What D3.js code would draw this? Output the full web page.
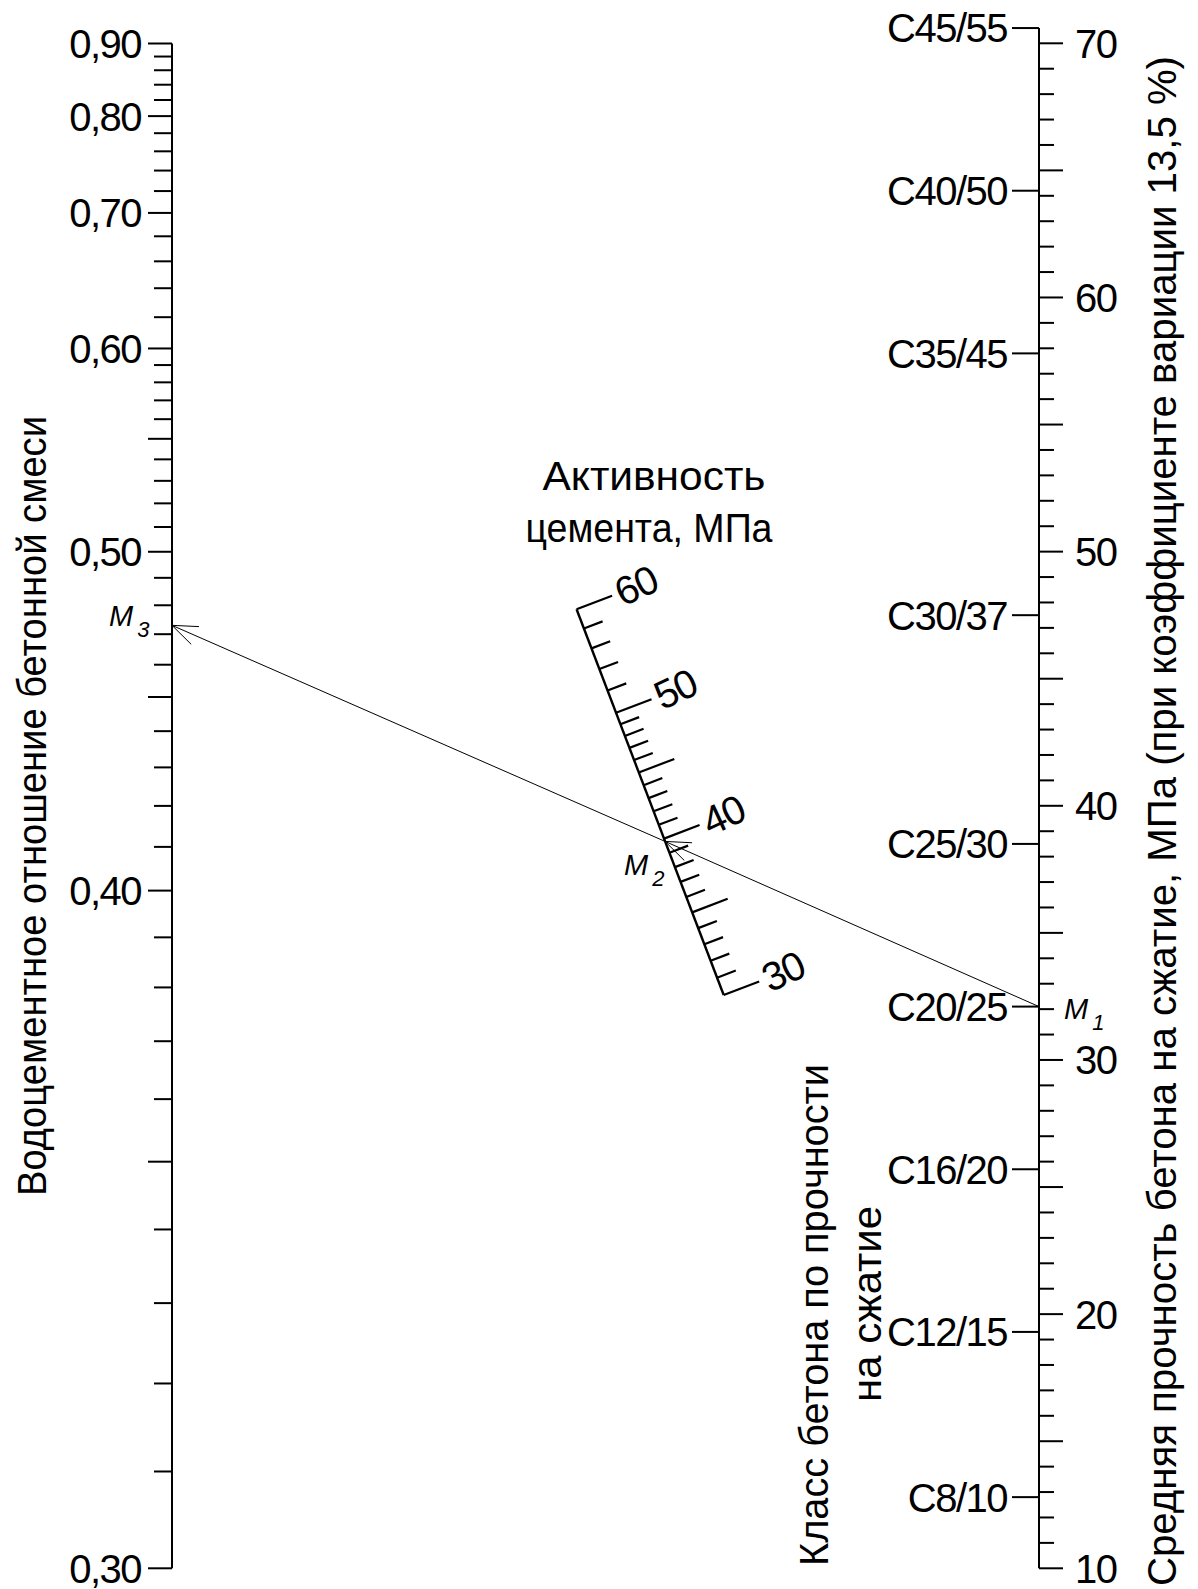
<!DOCTYPE html>
<html><head><meta charset="utf-8">
<script src="https://cdn.jsdelivr.net/npm/d3@7"></script>
<style>
html,body{margin:0;padding:0;background:#fff;}
svg text{font-family:"Liberation Sans",Arial,sans-serif;fill:#000;}
</style></head><body>
<svg id="chart" width="1198" height="1589"></svg>
<script>
// ---------- DATA ----------
// Water-cement ratio scale (left)
const wcMajor = [0.30, 0.40, 0.50, 0.60, 0.70, 0.80, 0.90];
const wcMajorLabels = ["0,30", "0,40", "0,50", "0,60", "0,70", "0,80", "0,90"];
const wcMid = [0.35, 0.45, 0.55];
const wcMinor = [0.31,0.32,0.33,0.34,0.36,0.37,0.38,0.39,
                 0.41,0.42,0.43,0.44,0.46,0.47,0.48,0.49,
                 0.51,0.52,0.53,0.54,0.56,0.57,0.58,0.59,
                 0.62,0.64,0.66,0.68,0.72,0.74,0.76,0.78,
                 0.82,0.84,0.86,0.88];
// Mean compressive strength scale (right), MPa
const strengthDomain = [10, 70];
const strengthLabels = [10, 20, 30, 40, 50, 60, 70];
// Concrete classes and their mean strength on the right scale
const classLabels = ["C8/10","C12/15","C16/20","C20/25","C25/30","C30/37","C35/45","C40/50","C45/55"];
const classStrength = [12.8, 19.3, 25.7, 32.1, 38.5, 47.5, 57.8, 64.2, 70.6];
// Cement activity scale (middle), MPa
const cemMajor = [30, 35, 40, 45, 50, 60];
const cemLabels = [30, 40, 50, 60];
const cemMinor = [31,32,33,34,36,37,38,39,41,42,43,44,46,47,48,49,52,54,56,58];
// Example key (M1 -> M2 -> M3)
const keyStrength = 32.1;   // M1
const keyCement = 39.8;     // M2
const keyWC = 0.473;        // M3

// ---------- LAYOUT ----------
const svg = d3.select("#chart");
const xL = 172, xR = 1039;
const black = "#000";
const FS = 40, LS = "-1.5px";

// ---------- SCALES ----------
const uOf = w => 1 / (w - 0.1);
const uScale = d3.scaleLinear().domain([uOf(0.9), uOf(0.3)]).range([43.5, 1568.3]);
const yW = w => uScale(uOf(w));
const yR = d3.scaleLinear().domain(strengthDomain).range([1568.3, 43.3]);
const tauOf = r => 1 / (1 + 0.01905 * r);
const tauScale = d3.scaleLinear().domain([0, 1]).range([xL, xR]);
const mxOf = r => tauScale(tauOf(r));
const myScale = d3.scaleLinear().domain([mxOf(60), mxOf(30)]).range([609.3, 995]);
const midPt = r => [mxOf(r), myScale(mxOf(r))];

// ---------- LEFT AXIS ----------
const gL = svg.append("g");
gL.append("line").attr("x1", xL).attr("x2", xL)
  .attr("y1", yW(0.9)).attr("y2", yW(0.3))
  .attr("stroke", black).attr("stroke-width", 2);
gL.selectAll("line.maj").data(wcMajor.concat(wcMid)).enter().append("line")
  .attr("x1", xL - 24).attr("x2", xL).attr("y1", d => yW(d)).attr("y2", d => yW(d))
  .attr("stroke", black).attr("stroke-width", 2);
gL.selectAll("line.min").data(wcMinor).enter().append("line")
  .attr("x1", xL - 18).attr("x2", xL).attr("y1", d => yW(d)).attr("y2", d => yW(d))
  .attr("stroke", black).attr("stroke-width", 2);
gL.selectAll("text").data(wcMajor).enter().append("text")
  .attr("x", xL - 31).attr("y", d => yW(d)).attr("dy", "0.36em")
  .attr("text-anchor", "end").attr("font-size", FS).attr("letter-spacing", LS)
  .text((d, i) => wcMajorLabels[i]);

// ---------- RIGHT AXIS ----------
const gR = svg.append("g");
gR.append("line").attr("x1", xR).attr("x2", xR)
  .attr("y1", yR(d3.max(classStrength))).attr("y2", yR(10))
  .attr("stroke", black).attr("stroke-width", 2);
const sTicks = yR.ticks(60);
gR.selectAll("line.s").data(sTicks).enter().append("line")
  .attr("x1", xR).attr("x2", d => xR + (d % 5 === 0 ? 24 : 15))
  .attr("y1", d => yR(d)).attr("y2", d => yR(d))
  .attr("stroke", black).attr("stroke-width", 2);
gR.selectAll("text.s").data(strengthLabels).enter().append("text")
  .attr("x", xR + 36).attr("y", d => yR(d)).attr("dy", "0.36em")
  .attr("font-size", FS).attr("letter-spacing", LS).text(d => d);
gR.selectAll("line.c").data(classStrength).enter().append("line")
  .attr("x1", xR - 27).attr("x2", xR).attr("y1", d => yR(d)).attr("y2", d => yR(d))
  .attr("stroke", black).attr("stroke-width", 2);
gR.selectAll("text.c").data(classStrength).enter().append("text")
  .attr("x", xR - 32).attr("y", d => yR(d)).attr("dy", "0.36em")
  .attr("text-anchor", "end").attr("font-size", FS).attr("letter-spacing", LS)
  .text((d, i) => classLabels[i]);

// ---------- MIDDLE AXIS ----------
const gM = svg.append("g");
const pTop = midPt(60), pBot = midPt(30);
const dx = pBot[0] - pTop[0], dy = pBot[1] - pTop[1], dl = Math.hypot(dx, dy);
const nx = dy / dl, ny = -dx / dl;
const ang = Math.atan2(ny, nx) * 180 / Math.PI;
gM.append("line").attr("x1", pTop[0]).attr("y1", pTop[1]).attr("x2", pBot[0]).attr("y2", pBot[1])
  .attr("stroke", black).attr("stroke-width", 2.4);
function midTick(r, len) {
  const p = midPt(r);
  return [p[0], p[1], p[0] + nx * len, p[1] + ny * len];
}
gM.selectAll("line.mj").data(cemMajor).enter().append("line")
  .each(function (d) {
    const t = midTick(d, 38);
    d3.select(this).attr("x1", t[0]).attr("y1", t[1]).attr("x2", t[2]).attr("y2", t[3]);
  }).attr("stroke", black).attr("stroke-width", 2.2);
gM.selectAll("line.mn").data(cemMinor).enter().append("line")
  .each(function (d) {
    const t = midTick(d, 20);
    d3.select(this).attr("x1", t[0]).attr("y1", t[1]).attr("x2", t[2]).attr("y2", t[3]);
  }).attr("stroke", black).attr("stroke-width", 2.2);
gM.selectAll("text").data(cemLabels).enter().append("text")
  .attr("transform", d => {
    const t = midTick(d, 43);
    return `translate(${t[2]},${t[3]}) rotate(${ang - 4})`;
  })
  .attr("dy", "0.36em").attr("font-size", FS).attr("letter-spacing", LS).text(d => d);

// ---------- KEY LINE WITH ARROWS ----------
const p1 = [xR, yR(keyStrength)];
const p2 = midPt(keyCement);
const p3 = [xL, yW(keyWC)];
const gK = svg.append("g").attr("stroke", black).attr("stroke-width", 1).attr("fill", "none");
function arrow(from, to) {
  gK.append("line").attr("x1", from[0]).attr("y1", from[1]).attr("x2", to[0]).attr("y2", to[1]);
  const bx = from[0] - to[0], by = from[1] - to[1], bl = Math.hypot(bx, by);
  const ux = bx / bl, uy = by / bl, a = 21 * Math.PI / 180, L = 27;
  const w1 = [to[0] + L * (ux * Math.cos(a) - uy * Math.sin(a)), to[1] + L * (ux * Math.sin(a) + uy * Math.cos(a))];
  const w2 = [to[0] + L * (ux * Math.cos(-a) - uy * Math.sin(-a)), to[1] + L * (ux * Math.sin(-a) + uy * Math.cos(-a))];
  gK.append("path").attr("d", `M${w1[0]},${w1[1]}L${to[0]},${to[1]}L${w2[0]},${w2[1]}`);
}
arrow(p1, p2);
arrow(p2, p3);

function mLabel(x, y, sub) {
  const t = svg.append("text").attr("x", x).attr("y", y)
    .attr("font-size", 29).attr("font-style", "italic").text("M");
  t.append("tspan").attr("dx", 4).attr("dy", 11).attr("font-size", 22).text(sub);
}
mLabel(p1[0] + 25, p1[1] + 12, "1");
mLabel(p2[0] - 41, p2[1] + 34, "2");
mLabel(p3[0] - 63, p3[1] + 1, "3");

// ---------- TITLES ----------
function title(tx, ty, rot, len, str) {
  svg.append("text").attr("transform", `translate(${tx},${ty}) rotate(${rot})`)
    .attr("text-anchor", "middle").attr("font-size", FS)
    .attr("textLength", len).attr("lengthAdjust", "spacingAndGlyphs")
    .text(str);
}
title(46, 806, -90, 780, "Водоцементное отношение бетонной смеси");
title(1176, 821, -90, 1530, "Средняя прочность бетона на сжатие, МПа (при коэффициенте вариации 13,5 %)");
title(828, 1315, -90, 502, "Класс бетона по прочности");
title(881, 1304, -90, 196, "на сжатие");
title(654, 490, 0, 223, "Активность");
title(649, 542, 0, 247, "цемента, МПа");
</script>
</body></html>
